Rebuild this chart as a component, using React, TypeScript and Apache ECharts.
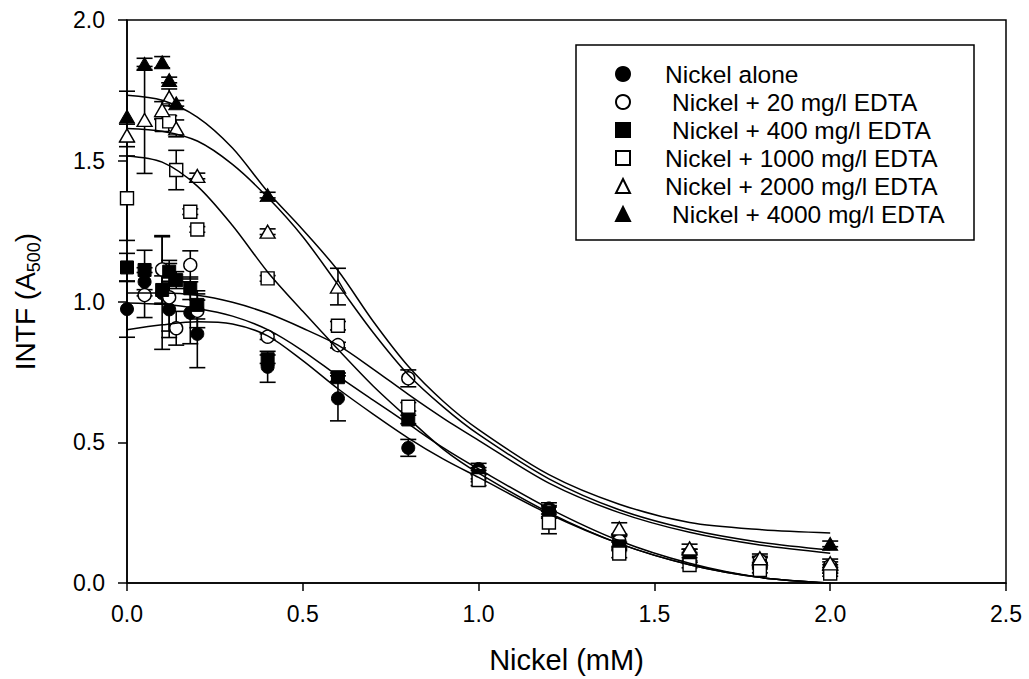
import React, { useEffect, useRef } from "react";
import * as echarts from "echarts";

const FONT = "'Liberation Sans', Arial, Helvetica, sans-serif";

// x positions along the fitted curves
const fitX = [0, 0.1, 0.2, 0.3, 0.4, 0.5, 0.6, 0.7, 0.8, 0.9, 1.0, 1.2, 1.4, 1.6, 1.8, 2.0];
const fitAlone = [0.9, 0.917, 0.928, 0.92, 0.878, 0.79, 0.69, 0.6, 0.515, 0.44, 0.375, 0.245, 0.14, 0.065, 0.02, 0.0];
const fit20 = [1.03, 1.03, 1.022, 0.997, 0.958, 0.905, 0.845, 0.76, 0.67, 0.585, 0.507, 0.355, 0.25, 0.18, 0.135, 0.106];
const fit400 = [0.995, 0.99, 0.975, 0.948, 0.9, 0.825, 0.735, 0.65, 0.565, 0.48, 0.405, 0.265, 0.15, 0.07, 0.02, 0.0];
const fit1000 = [1.517, 1.495, 1.41, 1.27, 1.105, 0.965, 0.83, 0.7, 0.585, 0.475, 0.39, 0.25, 0.14, 0.065, 0.02, 0.0];
const fit2000 = [1.615, 1.605, 1.57, 1.487, 1.37, 1.23, 1.06, 0.89, 0.74, 0.625, 0.528, 0.37, 0.26, 0.19, 0.145, 0.117];
const fit4000 = [1.733, 1.715, 1.655, 1.545, 1.39, 1.255, 1.11, 0.93, 0.77, 0.645, 0.545, 0.385, 0.28, 0.215, 0.19, 0.178];

// measured points
const aloneX = [0, 0.05, 0.1, 0.12, 0.18, 0.2, 0.4, 0.6, 0.8, 1.0, 1.2, 1.4, 1.6, 1.8, 2.0];
const aloneY = [0.973, 1.07, 1.03, 0.972, 0.96, 0.885, 0.768, 0.656, 0.48, 0.405, 0.265, 0.145, 0.1, 0.075, 0.05];
const aloneE = [0.1, 0.05, 0.2, 0.1, 0.11, 0.12, 0.055, 0.08, 0.03, 0.02, 0.02, 0.02, 0.02, 0.015, 0.015];

const e20X = [0.05, 0.1, 0.12, 0.14, 0.18, 0.2, 0.4, 0.6, 0.8, 1.0, 1.2, 1.4, 1.6, 1.8, 2.0];
const e20Y = [1.023, 1.114, 1.015, 0.905, 1.13, 0.967, 0.875, 0.845, 0.727, 0.39, 0.255, 0.15, 0.105, 0.08, 0.06];
const e20E = [0.08, 0.12, 0.12, 0.06, 0.05, 0.06, 0.01, 0.01, 0.03, 0.02, 0.02, 0.02, 0.015, 0.015, 0.015];

const e400X = [0, 0.05, 0.1, 0.12, 0.14, 0.18, 0.2, 0.4, 0.6, 0.8, 1.0, 1.2, 1.4, 1.6, 1.8, 2.0];
const e400Y = [1.121, 1.112, 1.041, 1.106, 1.076, 1.047, 0.988, 0.795, 0.731, 0.581, 0.38, 0.25, 0.13, 0.088, 0.06, 0.045];
const e400E = [0.05, 0.07, 0.05, 0.04, 0.03, 0.04, 0.05, 0.015, 0.015, 0.015, 0.02, 0.02, 0.015, 0.015, 0.01, 0.01];

const e1000X = [0, 0.1, 0.12, 0.14, 0.18, 0.2, 0.4, 0.6, 0.8, 1.0, 1.2, 1.4, 1.6, 1.8, 2.0];
const e1000Y = [1.367, 1.627, 1.64, 1.467, 1.319, 1.256, 1.082, 0.914, 0.626, 0.366, 0.215, 0.105, 0.064, 0.046, 0.034];
const e1000E = [0.15, 0.02, 0.02, 0.07, 0.01, 0.01, 0.01, 0.015, 0.015, 0.02, 0.04, 0.015, 0.01, 0.01, 0.01];

const e2000X = [0, 0.05, 0.1, 0.12, 0.14, 0.2, 0.4, 0.6, 1.4, 1.6, 1.8, 2.0];
const e2000Y = [1.59, 1.645, 1.68, 1.725, 1.615, 1.446, 1.248, 1.053, 0.194, 0.123, 0.088, 0.07];
const e2000E = [0.04, 0.19, 0.03, 0.03, 0.03, 0.01, 0.01, 0.065, 0.02, 0.015, 0.015, 0.015];

const e4000X = [0, 0.05, 0.1, 0.12, 0.14, 0.4, 2.0];
const e4000Y = [1.657, 1.844, 1.85, 1.787, 1.704, 1.378, 0.139];
const e4000E = [0.09, 0.02, 0.02, 0.01, 0.01, 0.01, 0.01];

const seriesNames = [
  "Nickel alone",
  "Nickel + 20 mg/l EDTA",
  "Nickel + 400 mg/l EDTA",
  "Nickel + 1000 mg/l EDTA",
  "Nickel + 2000 mg/l EDTA",
  "Nickel + 4000 mg/l EDTA",
];
const legendIndent = [30, 37, 37, 30, 30, 37];
const xTicks = [0, 0.5, 1.0, 1.5, 2.0, 2.5];

const groups = [
  { name: seriesNames[0], xs: aloneX, ys: aloneY, es: aloneE, fit: fitAlone, symbol: "circle", size: 13, filled: true },
  { name: seriesNames[1], xs: e20X, ys: e20Y, es: e20E, fit: fit20, symbol: "circle", size: 13, filled: false },
  { name: seriesNames[2], xs: e400X, ys: e400Y, es: e400E, fit: fit400, symbol: "rect", size: 13, filled: true },
  { name: seriesNames[3], xs: e1000X, ys: e1000Y, es: e1000E, fit: fit1000, symbol: "rect", size: 13, filled: false },
  { name: seriesNames[4], xs: e2000X, ys: e2000Y, es: e2000E, fit: fit2000, symbol: "triangle", size: [15, 13], filled: false },
  { name: seriesNames[5], xs: e4000X, ys: e4000Y, es: e4000E, fit: fit4000, symbol: "triangle", size: [15, 13], filled: true },
];

function errorBars(xs: number[], ys: number[], es: number[]) {
  return {
    type: "custom",
    silent: true,
    z: 2,
    encode: { x: 0, y: 1 },
    data: xs.map((x, i) => [x, ys[i], es[i]]),
    renderItem: (_p: any, api: any) => {
      const x = api.value(0);
      const y = api.value(1);
      const e = api.value(2);
      const t = api.coord([x, y + e]);
      const b = api.coord([x, y - e]);
      const w = 8;
      const st = { stroke: "#000", lineWidth: 1.6 };
      return {
        type: "group",
        children: [
          { type: "line", shape: { x1: t[0], y1: t[1], x2: b[0], y2: b[1] }, style: st },
          { type: "line", shape: { x1: t[0] - w, y1: t[1], x2: t[0] + w, y2: t[1] }, style: st },
          { type: "line", shape: { x1: b[0] - w, y1: b[1], x2: b[0] + w, y2: b[1] }, style: st },
        ],
      };
    },
  };
}

export default function App() {
  const ref = useRef<HTMLDivElement>(null);
  useEffect(() => {
    if (!ref.current) return;
    const chart = echarts.init(ref.current, undefined, { renderer: "svg" });
    const series: any[] = [];
    groups.forEach((g) => {
      series.push(errorBars(g.xs, g.ys, g.es));
    });
    groups.forEach((g) => {
      series.push({
        type: "scatter",
        name: g.name,
        z: 3,
        symbol: g.symbol,
        symbolSize: g.size,
        data: g.xs.map((x, i) => [x, g.ys[i]]),
        itemStyle: g.filled
          ? { color: "#000", borderColor: "#000", borderWidth: 1, opacity: 1 }
          : { color: "#fff", borderColor: "#000", borderWidth: 1.4, opacity: 1 },
      });
    });
    groups.forEach((g) => {
      series.push({
        type: "line",
        name: "fit " + g.name,
        z: 4,
        smooth: 0.3,
        showSymbol: false,
        silent: true,
        data: fitX.map((x, i) => [x, g.fit[i]]),
        lineStyle: { color: "#000", width: 1.5 },
      });
    });

    chart.setOption({
      animation: false,
      backgroundColor: "#fff",
      textStyle: { fontFamily: FONT },
      grid: {
        left: 127,
        right: 23,
        top: 20,
        bottom: 96,
        show: true,
        borderColor: "#000",
        borderWidth: 1.5,
        containLabel: false,
      },
      legend: {
        orient: "vertical",
        left: 610,
        top: 55,
        itemGap: 0,
        itemWidth: 14,
        itemHeight: 14,
        selectedMode: false,
        textStyle: { fontSize: 24.5, fontFamily: FONT, color: "#000", lineHeight: 28 },
        data: seriesNames.map((n, i) => ({
          name: n,
          textStyle: { padding: [0, 0, 0, legendIndent[i]] },
        })),
      },
      graphic: [
        {
          type: "rect",
          shape: { x: 576, y: 45, width: 398, height: 195 },
          style: { fill: "none", stroke: "#000", lineWidth: 1.5 },
          z: 10,
        },
      ],
      xAxis: {
        type: "value",
        min: 0,
        max: 2.5,
        interval: 0.5,
        name: "Nickel (mM)",
        nameLocation: "middle",
        nameGap: 62,
        nameTextStyle: { fontSize: 29, fontFamily: FONT, color: "#000" },
        axisLine: { lineStyle: { color: "#000", width: 1.5 } },
        axisTick: { show: true, inside: false, length: 8, lineStyle: { color: "#000", width: 1.5 } },
        axisLabel: {
          fontSize: 23,
          fontFamily: FONT,
          color: "#000",
          margin: 19,
          formatter: (v: number) => (xTicks.indexOf(v) >= 0 ? v.toFixed(1) : ""),
        },
        splitLine: { show: false },
      },
      yAxis: {
        type: "value",
        min: 0,
        max: 2,
        interval: 0.5,
        name: "{a|INTF (A}{s|500}{a|)}",
        nameLocation: "middle",
        nameRotate: 90,
        nameGap: 84,
        nameTextStyle: {
          fontSize: 28,
          fontFamily: FONT,
          color: "#000",
          rich: {
            a: { fontSize: 28, fontFamily: FONT, color: "#000", lineHeight: 36, verticalAlign: "middle" },
            s: { fontSize: 18, fontFamily: FONT, color: "#000", lineHeight: 36, verticalAlign: "bottom" },
          },
        },
        axisLine: { lineStyle: { color: "#000", width: 1.5 } },
        axisTick: { show: true, inside: false, length: 9, lineStyle: { color: "#000", width: 1.5 } },
        axisLabel: {
          fontSize: 23,
          fontFamily: FONT,
          color: "#000",
          margin: 22,
          formatter: (v: number) => v.toFixed(1),
        },
        splitLine: { show: false },
      },
      series,
    });
    return () => chart.dispose();
  }, []);
  return (
    <div
      ref={ref}
      style={{ position: "fixed", left: 0, top: 0, width: 1029, height: 679, background: "#fff" }}
    />
  );
}
